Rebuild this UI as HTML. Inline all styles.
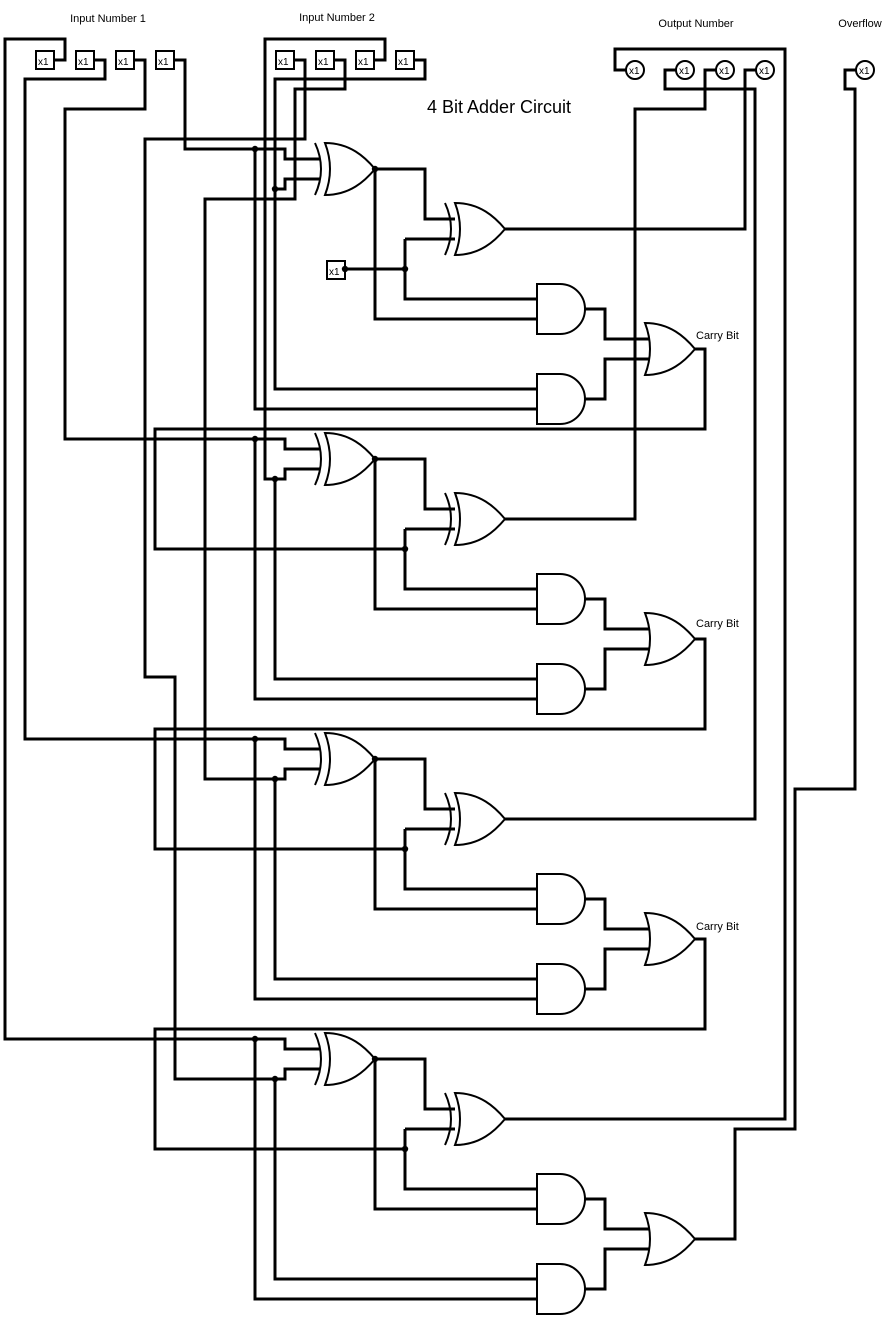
<!DOCTYPE html>
<html><head><meta charset="utf-8"><style>
html,body{margin:0;padding:0;background:#fff;}
svg{display:block;}
text{font-family:"Liberation Sans",sans-serif;fill:#000;}
</style></head><body>
<svg id="c" width="894" height="1319" viewBox="0 0 894 1319" xmlns="http://www.w3.org/2000/svg">
<rect width="894" height="1319" fill="#fff"/>
<text x="108" y="22" font-size="11" text-anchor="middle">Input Number 1</text>
<text x="337" y="21" font-size="11" text-anchor="middle">Input Number 2</text>
<text x="696" y="27" font-size="11" text-anchor="middle">Output Number</text>
<text x="860" y="27" font-size="11" text-anchor="middle">Overflow</text>
<text x="427" y="113" font-size="18">4 Bit Adder Circuit</text>
<g id="wires" fill="none" stroke="#000" stroke-width="3">
<path d="M55,60 H65 V39 H5 V1039 H285 V1049 H320"/>
<path d="M95,60 H105 V79 H25 V739 H285 V749 H320"/>
<path d="M135,60 H145 V109 H65 V439 H285 V449 H320"/>
<path d="M175,60 H185 V149 H285 V159 H320"/>
<path d="M295,60 H305 V139 H145 V677 H175 V1079 H285 V1069 H320"/>
<path d="M335,60 H345 V89 H295 V199 H205 V779 H285 V769 H320"/>
<path d="M375,60 H385 V39 H265 V479 H285 V469 H320"/>
<path d="M415,60 H425 V79 H275 V389 H537"/>
<path d="M275,189 H285 V179 H320"/>
<path d="M255,149 V409 H537"/>
<path d="M345,269 H405"/>
<path d="M756,70 H745 V229 H505"/>
<path d="M716,70 H705 V109 H635 V519 H505"/>
<path d="M676,70 H665 V89 H755 V819 H505"/>
<path d="M626,70 H615 V49 H785 V1119 H505"/>
<path d="M856,70 H845 V89 H855 V789 H795 V1129 H735 V1239 H695"/>
</g>
<g id="gates" fill="#fff" stroke="#000" stroke-width="2"></g>
<g id="io"></g>
</svg>
<script>
const NS="http://www.w3.org/2000/svg";
const wires=document.getElementById('wires');
const gates=document.getElementById('gates');
const io=document.getElementById('io');
const svg=document.getElementById('c');
function mk(tag,attrs,parent){const e=document.createElementNS(NS,tag);for(const k in attrs)e.setAttribute(k,attrs[k]);parent.appendChild(e);return e;}
const offs=[0,290,590,890];
const dots=[[255,149],[275,189],[345,269],[405,269]];
offs.forEach((o,i)=>{
  let p;
  p=mk('path',{d:`M375,${169+o} H425 V${219+o} H455 M375,${169+o} V${319+o} H537`},wires);
  
  
  p=mk('path',{d:`M405,${239+o} H455 M405,${239+o} V${299+o} H537`},wires);
  
  
  p=mk('path',{d:`M585,${309+o} H605 V${339+o} H650 M585,${399+o} H605 V${359+o} H650`},wires);
  
  
  if(i>0){
    p=mk('path',{d:`M255,${149+o} V${409+o} H537 M275,${189+o} V${389+o} H537`},wires);
    
    
    const po=offs[i-1];
    p=mk('path',{d:`M695,${349+po} H705 V${139+o} H155 V${259+o} H405`},wires);
    
    
    dots.push([255,149+o],[275,189+o],[405,259+o]);
  }
  dots.push([375,169+o]);
  [[0,169],[130,229]].forEach((g,j)=>{
    const x=g[0],cy=g[1]+o;
    p=mk('path',{d:`M${315+x},${cy-26} Q${327+x},${cy} ${315+x},${cy+26}`,fill:'none'},gates);
    
    
    p=mk('path',{d:`M${325+x},${cy-26} C${350+x},${cy-26} ${365+x},${cy-12} ${375+x},${cy} C${365+x},${cy+12} ${350+x},${cy+26} ${325+x},${cy+26} Q${335+x},${cy} ${325+x},${cy-26} Z`},gates);
    
    
  });
  [284,374].forEach((t,j)=>{
    const y=t+o;
    p=mk('path',{d:`M537,${y} H560 A25,25 0 0 1 560,${y+50} H537 Z`},gates);
    
    
  });
  const cy=349+o;
  p=mk('path',{d:`M645,${cy-26} C670,${cy-26} 685,${cy-12} 695,${cy} C685,${cy+12} 670,${cy+26} 645,${cy+26} Q655,${cy} 645,${cy-26} Z`},gates);
  
  
});
[339,627,930].forEach((y,i)=>{
  const t=mk('text',{x:696,y:y,'font-size':11},svg);
  t.textContent='Carry Bit';
  
  
});
const boxes=[36,76,116,156,276,316,356,396];
boxes.forEach((x,i)=>{
  const r=mk('rect',{x:x,y:51,width:18,height:18,fill:'#fff',stroke:'#000','stroke-width':2},io);
  
  
  const t=mk('text',{x:x+2,y:65,'font-size':10},io);
  t.textContent='x1';
  
  
});
{
  const r=mk('rect',{x:327,y:261,width:18,height:18,fill:'#fff',stroke:'#000','stroke-width':2},io);
  
  
  const t=mk('text',{x:329,y:275,'font-size':10},io);
  t.textContent='x1';
  
  
}
[635,685,725,765,865].forEach((x,i)=>{
  const c=mk('circle',{cx:x,cy:70,r:9,fill:'#fff',stroke:'#000','stroke-width':2},io);
  
  
  const t=mk('text',{x:x-6,y:74,'font-size':10},io);
  t.textContent='x1';
  
  
});
dots.forEach((d,i)=>{
  const c=mk('circle',{cx:d[0],cy:d[1],r:3.2,fill:'#000'},io);
  
  
});
</script>
</body></html>
